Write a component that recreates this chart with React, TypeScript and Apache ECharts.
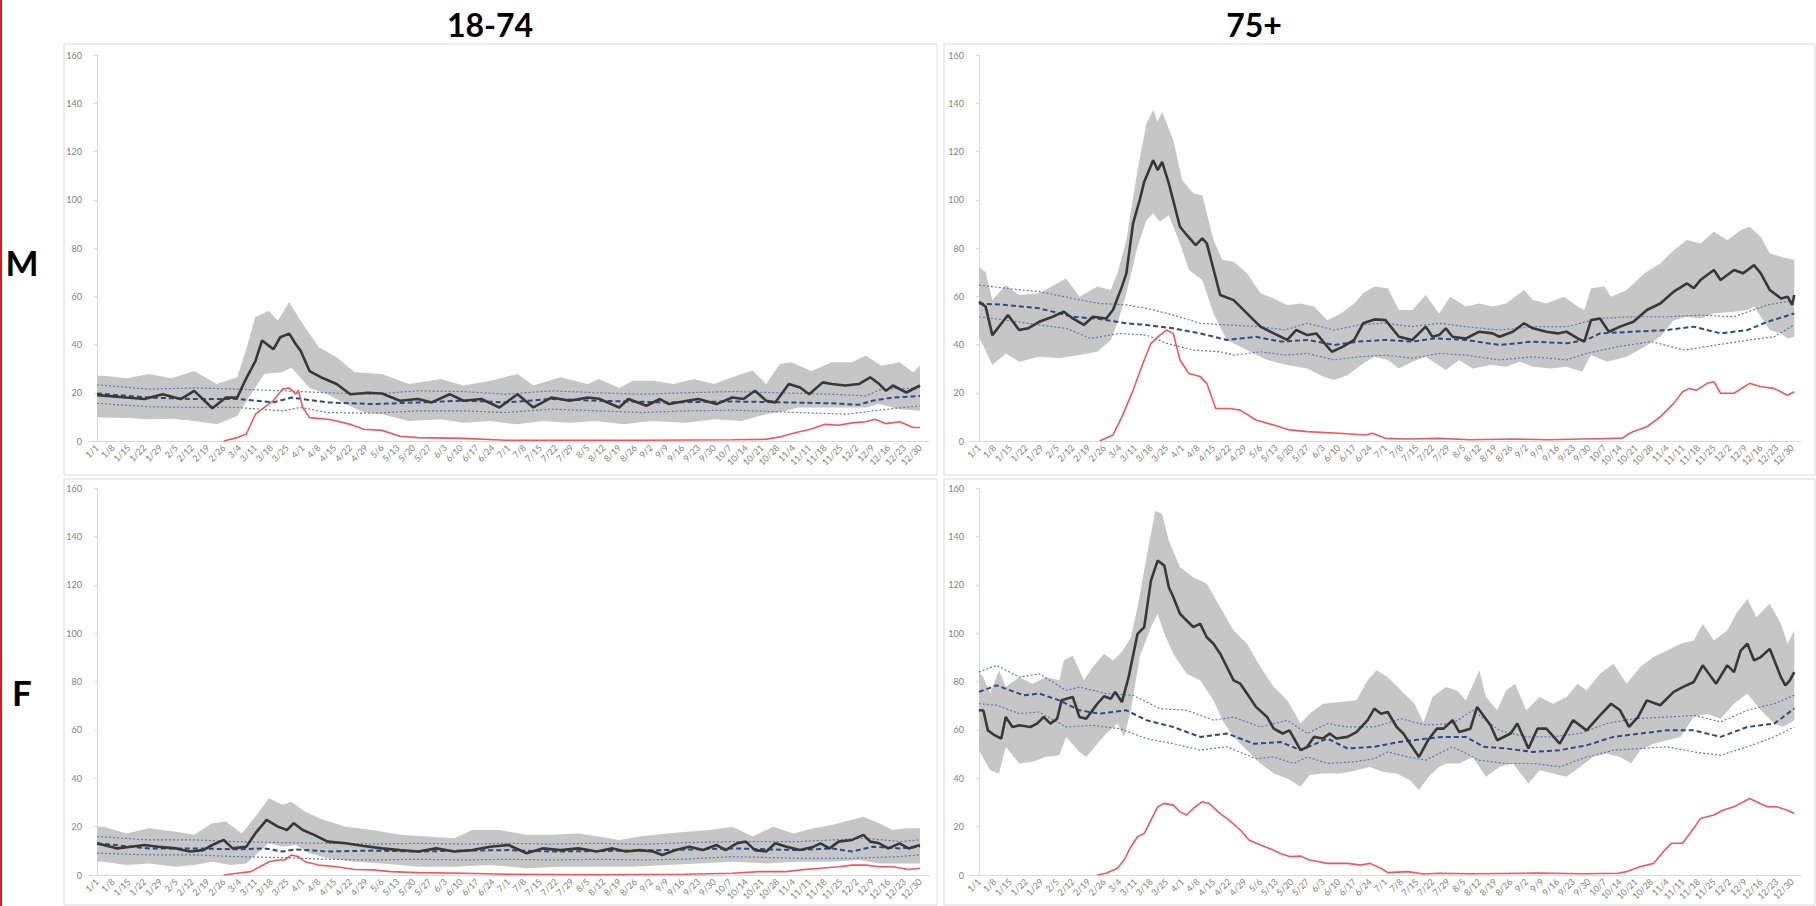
import React, { useEffect, useRef } from 'react';
import * as echarts from 'echarts';

// ---------- tick labels (weekly, 2020) ----------
const weekLabels = ['1/1','1/8','1/15','1/22','1/29','2/5','2/12','2/19','2/26','3/4','3/11','3/18','3/25','4/1','4/8','4/15','4/22','4/29','5/6','5/13','5/20','5/27','6/3','6/10','6/17','6/24','7/1','7/8','7/15','7/22','7/29','8/5','8/12','8/19','8/26','9/2','9/9','9/16','9/23','9/30','10/7','10/14','10/21','10/28','11/4','11/11','11/18','11/25','12/2','12/9','12/16','12/23','12/30'];
const yTicks = [0, 20, 40, 60, 80, 100, 120, 140, 160];
const columnTitles = ['18-74', '75+'];
const rowTitles = ['M', 'F'];

// ---------- M 18-74 : [day of year, value] ----------
const m1874Observed = [[0,19],[3,18.8],[13,18],[21,17.4],[29,19.4],[37,17.4],[43,20.8],[51,13.6],[57,18],[62,18],[66,26],[70,33],[73,41.7],[78,38],[81,43],[85,44.5],[88,40],[90,37.5],[94,29],[100,26],[106,23.6],[112,19.4],[120,20],[126,19.7],[134,16.7],[142,17.4],[148,16],[156,19.4],[162,16.7],[170,17.4],[178,13.9],[186,19.4],[193,13.9],[201,18],[209,16.7],[217,18],[222,17.5],[231,13.9],[235,17.4],[243,14.6],[249,17.4],[253,15.3],[261,16.7],[266,17.4],[274,15.3],[281,18],[286,17.4],[291,20.8],[296,16.7],[300,16],[306,23.6],[311,22.2],[315,19.4],[321,24.3],[325,23.6],[331,23],[337,23.6],[342,26.4],[346,23.6],[349,20.8],[352,23],[358,20.1],[364,23]];
const m1874Upper = [[0,27],[3,27],[13,26],[23,27.8],[33,26],[43,29],[53,23.6],[62,26.4],[66,38],[70,51.4],[76,54],[80,50],[85,57.6],[90,50],[98,39],[106,34.7],[114,28.5],[126,27.8],[138,23.6],[152,25.7],[162,23],[174,25],[186,27.8],[193,23],[205,26.4],[217,23.6],[222,25.7],[231,22],[237,25],[246,25],[255,23.6],[264,25.7],[273,23.6],[281,26.4],[290,29.2],[296,23.6],[302,31.9],[307,32.6],[316,29],[325,32.6],[334,32.6],[340,35.4],[347,31.2],[355,32.6],[361,28.5],[364,31.2]];
const m1874Lower = [[0,10],[3,9.7],[13,9.5],[23,9],[33,9.2],[43,8.3],[53,6.9],[62,10.4],[68,19.4],[74,27.8],[82,28.5],[86,30.5],[94,22],[102,19.4],[110,15.3],[118,11.8],[126,11.1],[138,8.3],[152,9],[162,7.6],[174,8.3],[186,6.9],[197,8.3],[209,7.6],[221,8.3],[233,6.9],[245,8.3],[261,7.6],[273,9],[285,8.3],[296,11.1],[305,12.5],[310,13.9],[325,13.9],[340,13.9],[346,15.3],[355,13.2],[364,12.5]];
const m1874Expected = [[0,19.7],[23,18],[43,17.4],[62,17.4],[78,16],[86,18],[102,16],[122,15.3],[142,16],[162,16.7],[181,16],[201,17.4],[221,16.7],[252,16],[281,16.4],[305,16],[325,15.6],[337,15],[343,16.7],[352,18],[364,18.7]];
const m1874ExpUpper = [[0,23.3],[23,21.5],[43,22],[62,21.5],[82,20.8],[102,20],[122,19.4],[142,20.8],[162,20.5],[181,19.4],[201,20.8],[221,20],[241,19.4],[261,20],[281,20.5],[325,19.4],[340,18.7],[347,21.5],[364,22]];
const m1874ExpLower = [[0,15.6],[23,14.2],[43,13.9],[62,13.9],[82,12.5],[90,13.9],[102,11.8],[122,11.5],[142,12.5],[162,12.5],[181,11.8],[201,13.2],[221,12.5],[241,11.8],[261,12.5],[281,12.8],[310,11.8],[332,11.1],[343,12.5],[364,14.6]];
const m1874Covid = [[56,0],[62,1.4],[66,2.8],[70,11],[74,13.9],[78,16.7],[82,21.5],[85,22],[88,19.4],[89,21],[91,13.9],[94,9.7],[102,9],[106,8.3],[112,6.9],[118,4.9],[126,4.4],[134,2],[142,1.4],[162,1.1],[181,0.3],[221,0.3],[241,0.3],[281,0.5],[296,0.7],[302,1.7],[307,3],[316,5],[322,6.9],[328,6.5],[334,7.5],[340,8],[344,9],[349,7.2],[355,8],[361,5.6],[364,5.6]];

// ---------- M 75+ ----------
const m75Observed = [[0,57.7],[3,55.7],[6,43.9],[13,52.2],[18,46],[22,46.7],[27,49.4],[33,51.5],[38,53.6],[42,50.8],[47,48.1],[51,51.5],[57,50.8],[60,54.3],[64,64],[66,69.5],[69,90.2],[72,100],[74,107.5],[78,116.4],[80,112.3],[82,115.7],[85,106.8],[90,88.8],[93,85.4],[97,81.2],[100,84],[102,81.9],[108,60.5],[114,58.4],[120,52.9],[126,47.4],[132,44.6],[138,41.9],[142,46],[147,43.9],[151,44.6],[156,39.1],[158,37],[163,39.1],[168,41.9],[172,48.8],[177,50.4],[182,50.1],[188,43.2],[194,41.9],[200,47.4],[203,43.2],[206,43.9],[209,46.7],[212,43.2],[218,42.5],[224,45.3],[230,44.6],[233,43.2],[239,45.3],[244,48.8],[248,46.7],[254,45.3],[259,44.6],[263,45.3],[268,42.5],[271,41.2],[274,50.1],[278,50.8],[282,45.3],[287,47.4],[293,49.4],[299,54.3],[305,57],[311,61.9],[317,65.3],[320,63.3],[323,66.7],[329,70.9],[332,66.7],[338,70.9],[342,69.5],[347,72.9],[350,69.5],[354,62.6],[359,59.1],[362,59.8],[364,56.4],[365,60.5]];
const m75Upper = [[0,72.2],[3,70],[6,58.4],[12,64.6],[18,60.5],[27,61.2],[39,67.4],[45,59.8],[53,64],[59,62.6],[62,69.5],[66,83.3],[71,112.3],[75,131.6],[78,137.2],[80,132.3],[82,136.5],[87,124.7],[91,108.1],[96,102.6],[100,101.9],[105,83.3],[109,75],[114,74.3],[120,69.5],[126,61.2],[132,59.1],[138,56.4],[144,57],[150,55.7],[156,50.1],[162,52.9],[168,57],[172,61.2],[177,64],[183,63.3],[188,54.3],[194,54.3],[200,60.5],[206,52.9],[211,59.8],[218,55.7],[224,57],[230,55.7],[236,57],[244,62.6],[248,58.4],[254,57],[262,59.8],[268,55.7],[271,54.3],[274,63.3],[280,64],[283,59.8],[290,62.6],[298,69.5],[305,73.6],[311,79.1],[317,83.3],[323,81.9],[329,86.7],[335,83.3],[341,87.4],[345,88.8],[350,84.7],[354,77.8],[359,76.4],[365,75]];
const m75Lower = [[0,43.2],[6,31.5],[12,36.3],[18,32.9],[27,34.9],[36,34.3],[45,35.6],[53,37],[59,41.9],[62,48.8],[66,61.2],[71,80.5],[75,91.6],[78,94.3],[81,90.9],[85,93.6],[90,81.9],[94,70.9],[100,66.7],[105,52.9],[111,41.9],[117,39.1],[123,36.3],[129,33.6],[138,31.5],[147,30.1],[154,26.7],[159,25.3],[165,27.3],[171,31.5],[177,34.9],[183,33.6],[188,30.1],[194,32.9],[200,34.9],[209,29.4],[215,33.6],[221,30.1],[229,31.5],[236,30.8],[242,32.9],[248,30.8],[256,30.1],[263,30.8],[270,28.7],[274,35.6],[281,32.9],[290,34.9],[298,39.1],[305,43.2],[311,50.1],[317,51.5],[323,50.8],[329,52.9],[338,53.6],[344,54.3],[347,55.7],[350,51.5],[354,46],[359,44.6],[362,42.5],[365,43.2]];
const m75Expected = [[0,57],[12,56.4],[27,55],[42,51.5],[54,50.6],[66,48.8],[75,48.1],[87,46.7],[99,44.6],[111,41.9],[124,43.2],[135,41.2],[147,41.9],[159,39.8],[170,41.2],[182,41.9],[194,41.2],[204,42.5],[218,41.9],[233,39.8],[248,41.2],[263,40.5],[272,41.9],[278,44.6],[293,45.3],[308,46],[320,47.4],[332,44.6],[344,46],[353,49.4],[365,52.9]];
const m75ExpUpper = [[0,64.6],[12,63.3],[27,61.9],[42,59.1],[54,57],[66,56.4],[75,55],[87,52.2],[99,48.8],[111,48.1],[126,47.4],[137,46],[147,48.8],[159,46],[170,48.1],[182,48.8],[194,47.4],[206,48.8],[218,47.4],[233,46],[248,47.4],[263,47.4],[278,50.8],[293,51.5],[308,51.5],[323,52.2],[338,51.5],[353,56.4],[365,58.4]];
const m75ExpLower = [[0,51.5],[12,50.1],[27,48.1],[39,46.7],[50,42.5],[63,44.6],[75,43.9],[84,40.5],[96,37.7],[108,37],[114,35.6],[126,37],[137,35.6],[147,36.3],[159,33.6],[170,34.9],[182,35.6],[194,34.3],[206,36.3],[218,35.6],[233,33.6],[248,34.9],[263,33.6],[272,36.3],[286,39.1],[301,41.2],[316,37.7],[330,39.8],[345,41.9],[356,43.2],[365,48.1]];
const m75Covid = [[54,0],[60,2.5],[64,10],[69,21],[74,33.6],[77,40.5],[81,43.9],[84,46],[87,44.6],[90,33.6],[94,28],[99,26.7],[102,23.9],[106,13.5],[112,13.5],[117,12.8],[124,8.7],[132,6.6],[139,4.6],[147,3.9],[161,3.2],[173,2.5],[176,3.2],[182,1.1],[191,0.8],[206,1.1],[220,0.5],[240,0.8],[255,0.5],[270,0.8],[280,1],[288,1.2],[291,3],[293,3.9],[299,5.9],[305,10],[311,15.6],[315,20.4],[318,21.8],[321,21],[326,23.9],[329,24.6],[332,19.8],[338,19.8],[345,23.9],[350,22.5],[356,21.8],[362,19],[365,20.4]];

// ---------- F 18-74 ----------
const f1874Observed = [[0,13],[3,12.4],[9,11],[15,11.7],[21,12.4],[27,11.7],[35,11],[41,9.7],[47,10.3],[51,12.4],[56,14.5],[60,11],[66,11.7],[70,17.2],[75,22.8],[80,20],[84,18.6],[87,21.4],[91,18.6],[96,16.6],[102,13.8],[110,13.1],[118,12],[126,11],[134,10.3],[142,9.7],[150,11],[158,9.7],[166,10.3],[174,11.7],[182,12.4],[190,9],[197,11],[205,10.3],[213,11],[221,9.7],[228,11],[234,9.7],[240,10.3],[246,9.7],[250,8.3],[256,10.3],[262,11.7],[268,10.3],[274,12.4],[278,10.3],[283,13.1],[287,13.8],[291,10.3],[296,9.7],[300,13.1],[305,11.7],[311,10.3],[317,11.7],[320,13.1],[324,11],[328,13.8],[334,14.5],[339,16.6],[342,13.8],[346,13.1],[350,11],[355,13.1],[359,11],[364,12.4]];
const f1874Upper = [[0,20],[3,20],[13,17.2],[23,19.3],[35,17.9],[43,16.6],[51,21.4],[57,22.1],[64,17.2],[70,24.1],[76,31.7],[82,29],[86,30.3],[92,26.2],[100,22.8],[110,20],[122,18.6],[134,16.6],[146,15.9],[158,15.2],[166,18.6],[178,18.6],[190,16.6],[201,16.6],[213,17.2],[222,15.9],[231,14.5],[240,15.9],[252,17.2],[261,17.9],[271,18.6],[281,20],[290,15.9],[299,20],[308,17.2],[317,19.3],[325,20.7],[334,22.8],[339,24.1],[346,21.4],[352,18.6],[358,19.3],[364,19.3]];
const f1874Lower = [[0,5.5],[3,5.5],[13,4.1],[23,4.8],[35,3.4],[43,4.1],[51,5.5],[59,4.1],[66,4.8],[72,9.7],[76,13.1],[82,11.7],[88,12.4],[94,9],[102,6.9],[114,5.5],[126,4.8],[142,3.4],[158,3.4],[174,4.1],[190,2.8],[205,3.4],[221,3.4],[237,3.4],[252,4.1],[266,4.8],[281,5.5],[296,4.8],[310,5.5],[325,5.5],[337,6.2],[346,4.8],[355,4.8],[364,4.8]];
const f1874Expected = [[0,13.1],[23,11],[43,11],[62,10.6],[74,11],[82,9.7],[88,10.6],[102,9.7],[122,10.1],[142,9.7],[162,10.1],[182,10.3],[201,9.7],[221,9.9],[252,10.3],[281,11],[310,10.3],[325,11],[334,9.7],[343,11.7],[355,11],[364,11.7]];
const f1874ExpUpper = [[0,15.9],[23,14.5],[43,14.5],[62,13.8],[82,13.4],[102,13.1],[122,12.8],[142,13.1],[162,12.8],[182,13.1],[201,12.8],[221,13.1],[241,12.7],[261,13.4],[281,13.8],[310,13.8],[340,15.2],[355,13.8],[364,14.5]];
const f1874ExpLower = [[0,9],[23,8.3],[43,8.3],[62,7.6],[82,7.2],[102,6.5],[122,6.2],[142,6.5],[162,6.2],[182,6.5],[201,6.2],[221,6.5],[241,6.2],[261,6.6],[281,7.6],[310,6.9],[334,6.9],[355,7.6],[364,8.3]];
const f1874Covid = [[56,0],[62,0.7],[68,1.4],[72,3.4],[76,5.5],[80,6.2],[83,6.2],[86,8.3],[89,7.6],[92,5.5],[98,4.1],[106,3.4],[114,2.3],[122,2.1],[130,1.4],[142,1],[162,0.7],[181,0.3],[221,0.1],[260,0.3],[281,0.7],[293,1.4],[305,1.4],[311,2.1],[320,2.8],[328,3.4],[334,4.1],[340,4.1],[346,3.4],[352,3.4],[359,2.3],[364,2.8]];

// ---------- F 75+ ----------
const f75Observed = [[0,68.1],[2,68],[4,59.8],[7,57.8],[10,56.4],[12,65.3],[15,61.2],[18,61.9],[23,61.2],[26,62.6],[29,65.3],[32,62.6],[35,64.6],[37,72.2],[42,73.6],[45,65.3],[48,64.6],[53,70.8],[56,73.9],[59,72.9],[61,75.7],[64,71.5],[67,81.8],[71,99.7],[74,102.5],[77,121.7],[80,130],[83,127.9],[85,119],[87,114.9],[90,108],[93,105.2],[96,102.5],[99,103.9],[102,98.3],[105,95.6],[108,91.5],[111,86],[114,80.5],[117,79.1],[120,75],[124,69.5],[129,65.3],[132,60.5],[136,58.5],[139,59.8],[144,51.6],[147,53],[150,57.1],[154,56.4],[157,58.5],[160,56.4],[165,57.1],[169,59.1],[174,64],[177,68.8],[180,66.7],[183,67.4],[187,61.2],[190,58.5],[193,54.3],[197,48.8],[201,55.7],[205,60.5],[208,60.5],[212,64],[215,59.1],[220,60.5],[223,69.5],[229,61.9],[232,55.7],[238,58.5],[241,62.6],[246,52.3],[250,60.5],[254,60.5],[260,54.3],[266,64],[272,59.8],[278,66],[283,70.8],[287,68.1],[291,61.2],[295,65.3],[299,72.2],[305,70.2],[311,75.7],[315,77.7],[320,79.8],[324,86.7],[330,79.1],[335,86.7],[338,83.9],[341,92.8],[344,95.6],[347,88.7],[350,90.1],[354,93.5],[359,81.8],[361,78.4],[363,80.5],[365,83.9]];
const f75Upper = [[0,83.9],[2,81.8],[5,75],[9,84.6],[12,77.7],[18,81.8],[24,79.1],[30,81.8],[36,80.5],[38,88.7],[42,90.8],[47,80.5],[51,86],[56,91.5],[60,88.7],[64,92.2],[68,98.3],[71,110.7],[75,131.4],[79,150.6],[82,149.2],[85,138.2],[90,127.2],[96,123.1],[102,120.4],[108,110.7],[114,101.1],[120,95.6],[126,86],[132,77.7],[138,72.2],[144,62.6],[148,66.7],[154,70.8],[162,71.5],[169,72.2],[174,80.5],[178,84.6],[183,81.8],[189,76.3],[195,70.8],[199,63],[203,73.6],[209,77.7],[214,76.3],[218,72.2],[224,84.6],[227,73.6],[232,68.1],[236,76.3],[240,79.1],[245,68.1],[251,73.6],[257,70.8],[263,73.6],[268,79.1],[272,76.3],[278,83.2],[284,87.3],[290,79.1],[296,86],[302,90.1],[308,92.8],[314,95.6],[320,97],[324,103.9],[329,97],[335,101.1],[339,108],[344,114.2],[348,106.6],[354,112.1],[359,103.9],[362,95.6],[365,101.1]];
const f75Lower = [[0,51.6],[5,43.3],[9,42],[12,53],[18,46.1],[24,46.8],[30,48.8],[36,49.5],[39,57.1],[45,50.9],[48,48.8],[53,54.3],[57,58.5],[62,62.6],[65,57.1],[68,68.1],[72,90.1],[77,102.5],[80,108],[83,99.7],[87,91.5],[93,83.2],[99,80.5],[105,72.2],[109,64],[114,57.1],[120,51.6],[126,46.1],[132,42],[138,39.9],[144,36.5],[148,41.3],[154,42],[162,42],[169,43.3],[175,44.7],[181,42.6],[187,42],[193,39.2],[197,35.1],[202,41.3],[206,44.7],[209,46.1],[215,46.1],[221,48.8],[227,40.6],[233,44.7],[239,46.1],[246,37.8],[251,43.3],[257,42],[263,40.6],[269,44.7],[275,48.8],[281,50.2],[287,48.8],[292,46.1],[296,51.6],[302,54.3],[308,55.7],[314,57.1],[320,65.3],[326,66.7],[332,64.6],[338,70.8],[344,75],[350,68.1],[356,62.6],[360,61.2],[365,64]];
const f75Expected = [[0,75.7],[8,78.4],[20,74.3],[27,75],[36,72.2],[45,68.1],[54,66.7],[66,68.1],[75,64],[87,61.2],[99,57.1],[111,58.5],[123,54.3],[135,55],[144,51.6],[156,56.4],[165,52.3],[177,53],[188,55],[197,56],[206,57],[218,57.1],[226,53],[236,52.3],[248,50.9],[260,51.6],[272,53.6],[284,57.1],[296,58.5],[308,59.8],[320,59.8],[332,57.1],[344,61.2],[356,62.6],[365,68.8]];
const f75ExpUpper = [[0,83.9],[8,86.7],[18,81.8],[27,83.2],[39,76.3],[45,77.7],[57,75],[69,74.3],[81,68.8],[93,68.1],[105,64],[114,65.3],[126,61.2],[138,64],[147,58.5],[156,62.6],[165,61.2],[177,61.2],[189,64.6],[200,62],[212,62.6],[221,68.1],[233,59.8],[245,57.1],[257,57.1],[269,58.5],[281,62.6],[293,64.6],[308,65.3],[320,66],[332,63.3],[344,68.1],[356,70.8],[365,74.3]];
const f75ExpLower = [[0,70.8],[8,70.2],[18,66.7],[27,67.4],[39,61.2],[51,61.9],[63,60.5],[75,56.4],[87,54.3],[99,51.6],[111,53],[124,48.1],[132,48.8],[141,46.1],[147,48.8],[156,46.1],[168,46.8],[177,48.1],[183,50.9],[192,48.8],[200,47.5],[212,53],[224,47.5],[236,46.1],[248,46.1],[260,44.7],[272,48.8],[284,51.6],[296,52.3],[308,53],[320,50.9],[332,49.5],[344,53],[356,57.1],[365,61.2]];
const f75Covid = [[53,0],[57,0.7],[62,2.8],[65,6.2],[68,11.7],[71,15.8],[74,17.2],[77,22.7],[80,28.2],[83,29.6],[87,28.9],[90,26.1],[93,24.8],[96,27.5],[100,30.3],[103,29.6],[108,25.4],[112,22.7],[117,18.6],[121,14.4],[126,12.4],[130,11],[135,8.9],[139,7.6],[144,7.8],[148,6.2],[156,4.8],[165,4.8],[171,4.1],[175,4.8],[180,2.8],[183,1],[192,1.4],[199,0.4],[206,0.7],[220,0.5],[250,0.8],[270,0.5],[286,0.7],[290,1.4],[296,3.4],[302,4.8],[307,10.3],[310,13.1],[315,13.1],[320,19.3],[323,23.4],[329,24.8],[333,26.8],[338,28.2],[341,29.6],[345,31.6],[348,30.3],[353,28.2],[357,28.2],[362,26.8],[365,25.4]];

type Pt = number[];
interface PanelData { observed: Pt[]; upper: Pt[]; lower: Pt[]; expected: Pt[]; expUpper: Pt[]; expLower: Pt[]; covid: Pt[]; }

const panelsData: PanelData[] = [
  { observed: m1874Observed, upper: m1874Upper, lower: m1874Lower, expected: m1874Expected, expUpper: m1874ExpUpper, expLower: m1874ExpLower, covid: m1874Covid },
  { observed: m75Observed, upper: m75Upper, lower: m75Lower, expected: m75Expected, expUpper: m75ExpUpper, expLower: m75ExpLower, covid: m75Covid },
  { observed: f1874Observed, upper: f1874Upper, lower: f1874Lower, expected: f1874Expected, expUpper: f1874ExpUpper, expLower: f1874ExpLower, covid: f1874Covid },
  { observed: f75Observed, upper: f75Upper, lower: f75Lower, expected: f75Expected, expUpper: f75ExpUpper, expLower: f75ExpLower, covid: f75Covid },
];

// layout (pixels)
const gridRects = [
  { left: 88, top: 55, width: 841, height: 386 },
  { left: 970, top: 55, width: 831, height: 386 },
  { left: 88, top: 488, width: 841, height: 387 },
  { left: 970, top: 488, width: 831, height: 387 },
];
const frameRects = [
  { x: 64, y: 44, width: 873, height: 431 },
  { x: 944, y: 44, width: 871, height: 431 },
  { x: 64, y: 479, width: 873, height: 426 },
  { x: 944, y: 479, width: 871, height: 426 },
];

const FONT = 'Lato, "Open Sans", sans-serif';
const AXIS_GRAY = '#d9d9d9';
const LABEL_GRAY = '#7f7f7f';

function buildOption() {
  const tickDays = weekLabels.map((_, i) => i * 7);
  const grids: any[] = [];
  const xAxes: any[] = [];
  const yAxes: any[] = [];
  const series: any[] = [];

  panelsData.forEach((p, i) => {
    grids.push({ ...gridRects[i], containLabel: false });
    xAxes.push({
      type: 'value', gridIndex: i, min: -4, max: 368,
      axisLine: { show: true, lineStyle: { color: AXIS_GRAY, width: 1 } },
      axisTick: { show: false, customValues: tickDays },
      splitLine: { show: false },
      axisLabel: {
        customValues: tickDays,
        rotate: 45, fontSize: 9, color: LABEL_GRAY, fontFamily: FONT, margin: 5,
        formatter: (v: number) => weekLabels[Math.round(v / 7)] ?? '',
      },
    });
    yAxes.push({
      type: 'value', gridIndex: i, min: 0, max: 160, interval: 20,
      axisLine: { show: true, lineStyle: { color: AXIS_GRAY, width: 1 } },
      axisTick: { show: true, length: 3, lineStyle: { color: AXIS_GRAY } },
      splitLine: { show: false },
      axisLabel: { fontSize: 9, color: LABEL_GRAY, fontFamily: FONT, margin: 6,
        formatter: (v: number) => (yTicks.includes(v) ? String(v) : '') },
    });

    const poly = p.upper.concat(p.lower.slice().reverse());
    series.push({
      type: 'custom', xAxisIndex: i, yAxisIndex: i, silent: true, z: 1,
      data: poly,
      renderItem: (params: any, api: any) => {
        if (params.dataIndex !== 0) return null;
        const points = poly.map((pt) => api.coord(pt));
        return { type: 'polygon', shape: { points }, style: { fill: '#c6c6c6', stroke: null } };
      },
    });
    const line = (data: Pt[], color: string, width: number, type: any, z: number) => ({
      type: 'line', xAxisIndex: i, yAxisIndex: i, data, z,
      showSymbol: false, symbol: 'none', silent: true,
      lineStyle: { color, width, type },
    });
    series.push(line(p.expUpper, '#5b79b6', 1.2, [2, 2], 3));
    series.push(line(p.expLower, '#5b79b6', 1.2, [2, 2], 3));
    series.push(line(p.expected, '#2a4a8a', 2, [5, 3], 4));
    series.push(line(p.covid, '#f0575c', 1.6, 'solid', 5));
    series.push(line(p.observed, '#383838', 2.6, 'solid', 6));
  });

  const graphics: any[] = [
    { type: 'rect', left: 0, top: 0, shape: { x: 0, y: 0, width: 2, height: 906 }, style: { fill: '#e8141c' }, z: 10 },
  ];
  frameRects.forEach((r) => graphics.push({
    type: 'rect', shape: { ...r }, style: { fill: 'rgba(0,0,0,0)', stroke: AXIS_GRAY, lineWidth: 1 }, z: -1, silent: true,
  }));
  const titleX = [490, 1254];
  columnTitles.forEach((t, i) => graphics.push({
    type: 'text', x: titleX[i], y: 24,
    style: { text: t, fontSize: 32, fontWeight: 'bold', fontFamily: FONT, fill: '#000', align: 'center', verticalAlign: 'middle' },
  }));
  const rowY = [262, 692];
  rowTitles.forEach((t, i) => graphics.push({
    type: 'text', x: 22, y: rowY[i],
    style: { text: t, fontSize: 35, fontWeight: 'bold', fontFamily: FONT, fill: '#000', align: 'center', verticalAlign: 'middle' },
  }));

  return {
    animation: false,
    backgroundColor: '#ffffff',
    grid: grids, xAxis: xAxes, yAxis: yAxes, series, graphic: graphics,
  };
}

export default function App() {
  const ref = useRef<HTMLDivElement>(null);
  useEffect(() => {
    if (!ref.current) return;
    const chart = echarts.init(ref.current, null, { renderer: 'svg' });
    chart.setOption(buildOption() as any);
    return () => chart.dispose();
  }, []);
  return <div ref={ref} style={{ position: 'fixed', left: 0, top: 0, width: 1816, height: 906 }} />;
}
